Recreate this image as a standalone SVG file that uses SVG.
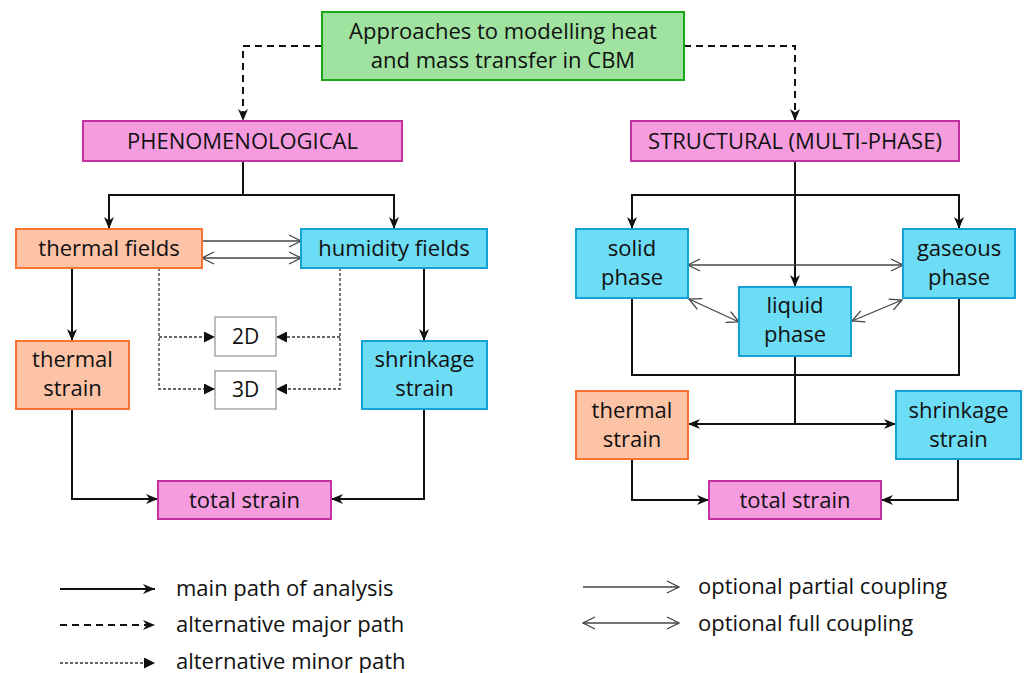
<svg xmlns="http://www.w3.org/2000/svg" width="1026" height="673" viewBox="0 0 1026 673">
<style>
text{font-family:"Open Sans","Liberation Sans",sans-serif;font-size:22px;fill:#111;text-anchor:middle}
.lg{text-anchor:start}
.green{fill:#a0e2a0;stroke:#1aa81a;stroke-width:2}
.pink{fill:#f59cdf;stroke:#c3309f;stroke-width:2}
.orange{fill:#fdc3a6;stroke:#fb7332;stroke-width:2}
.blue{fill:#6ddcf5;stroke:#15a0d6;stroke-width:2}
.white{fill:#fff;stroke:#a6a6a6;stroke-width:1.5}
.main{fill:none;stroke:#111;stroke-width:2;marker-end:url(#arr)}
.plain{fill:none;stroke:#111;stroke-width:2}
.dash{fill:none;stroke:#111;stroke-width:2;stroke-dasharray:7 5;marker-end:url(#arr)}
.dot{fill:none;stroke:#333;stroke-width:1.3;stroke-dasharray:3 2;marker-end:url(#tri)}
.part{fill:none;stroke:#444;stroke-width:1.3;marker-end:url(#open)}
.full{fill:none;stroke:#444;stroke-width:1.3;marker-end:url(#open);marker-start:url(#open)}
</style>
<defs>
<marker id="arr" markerUnits="userSpaceOnUse" viewBox="0 0 12 12" refX="12" refY="6" markerWidth="12" markerHeight="12" orient="auto">
<path d="M0,1 L12,6 L0,11 L3.5,6 z" fill="#111"/>
</marker>
<marker id="tri" markerUnits="userSpaceOnUse" viewBox="0 0 11 11" refX="11" refY="5.5" markerWidth="11" markerHeight="11" orient="auto">
<path d="M0,0 L11,5.5 L0,11 z" fill="#111"/>
</marker>
<marker id="open" markerUnits="userSpaceOnUse" viewBox="0 0 14 14" refX="13" refY="7" markerWidth="14" markerHeight="14" orient="auto-start-reverse">
<path d="M1,1 L13,7 L1,13" fill="none" stroke="#444" stroke-width="1.3"/>
</marker>
</defs>

<g id="connectors">
<path class="dash" d="M322,46 H243 V121"/>
<path class="dash" d="M684,46 H795 V121"/>
<path class="main" d="M243,161 V195 H109 V229"/>
<path class="main" d="M243,195 H394 V229"/>
<path class="part" d="M202,241 H301"/>
<path class="full" d="M202,258 H301"/>
<path class="main" d="M72,268 V341"/>
<path class="main" d="M424,268 V341"/>
<path class="dot" d="M159,268 V389 H215"/>
<path class="dot" d="M159,337 H215"/>
<path class="dot" d="M340,268 V389 H276"/>
<path class="dot" d="M340,337 H276"/>
<path class="main" d="M72,409 V499 H158"/>
<path class="main" d="M424,409 V499 H331"/>

<path class="main" d="M795,161 V287"/>
<path class="main" d="M795,195 H632 V229"/>
<path class="main" d="M795,195 H959 V229"/>
<path class="full" d="M688,265 H903"/>
<path class="full" d="M689,299 L739,322"/>
<path class="full" d="M902,300 L852,321"/>
<path class="plain" d="M632,298 V375 H959 V298"/>
<path class="plain" d="M795,356 V424"/>
<path class="main" d="M795,424 H688"/>
<path class="main" d="M795,424 H896"/>
<path class="main" d="M632,459 V500 H709"/>
<path class="main" d="M958,459 V500 H881"/>
</g>

<g id="n-top"><rect class="green" x="322" y="12" width="362" height="68"/><text x="503" y="39">Approaches to modelling heat</text><text x="503" y="68">and mass transfer in CBM</text></g>
<g id="n-phen"><rect class="pink" x="83" y="121" width="319" height="40"/><text x="242.5" y="149">PHENOMENOLOGICAL</text></g>
<g id="n-struct"><rect class="pink" x="631" y="121" width="328" height="40"/><text x="795" y="149">STRUCTURAL (MULTI-PHASE)</text></g>
<g id="n-thermal-fields"><rect class="orange" x="16" y="229" width="186" height="39"/><text x="109" y="256">thermal fields</text></g>
<g id="n-humidity-fields"><rect class="blue" x="301" y="229" width="186" height="39"/><text x="394" y="256">humidity fields</text></g>
<g id="n-thermal-strain-l"><rect class="orange" x="16" y="341" width="113" height="68"/><text x="72.5" y="367">thermal</text><text x="72.5" y="396">strain</text></g>
<g id="n-shrinkage-strain-l"><rect class="blue" x="362" y="341" width="125" height="68"/><text x="424.5" y="367">shrinkage</text><text x="424.5" y="396">strain</text></g>
<g id="n-2d"><rect class="white" x="215" y="317" width="61" height="39"/><text x="245.5" y="344" style="font-size:21px">2D</text></g>
<g id="n-3d"><rect class="white" x="215" y="371" width="61" height="38"/><text x="245.5" y="397" style="font-size:21px">3D</text></g>
<g id="n-total-l"><rect class="pink" x="158" y="481" width="173" height="38"/><text x="244.5" y="507.5">total strain</text></g>

<g id="n-solid"><rect class="blue" x="576" y="229" width="112" height="69"/><text x="632" y="256">solid</text><text x="632" y="285">phase</text></g>
<g id="n-gaseous"><rect class="blue" x="903" y="229" width="112" height="69"/><text x="959" y="256">gaseous</text><text x="959" y="285">phase</text></g>
<g id="n-liquid"><rect class="blue" x="739" y="287" width="112" height="69"/><text x="795" y="313">liquid</text><text x="795" y="342">phase</text></g>
<g id="n-thermal-strain-r"><rect class="orange" x="576" y="391" width="112" height="68"/><text x="632" y="418">thermal</text><text x="632" y="447">strain</text></g>
<g id="n-shrinkage-strain-r"><rect class="blue" x="896" y="391" width="125" height="68"/><text x="958.5" y="418">shrinkage</text><text x="958.5" y="447">strain</text></g>
<g id="n-total-r"><rect class="pink" x="709" y="481" width="172" height="38"/><text x="795" y="507.5">total strain</text></g>

<g id="legend">
<path class="main" d="M60,589 H155"/>
<path class="dash" d="M60,625 H155"/>
<path class="dot" d="M60,663 H155"/>
<path class="part" d="M583,587 H679"/>
<path class="full" d="M583,623 H679"/>
<text class="lg" x="176" y="596">main path of analysis</text>
<text class="lg" x="176" y="632">alternative major path</text>
<text class="lg" x="176" y="669">alternative minor path</text>
<text class="lg" x="698" y="594">optional partial coupling</text>
<text class="lg" x="698" y="631">optional full coupling</text>
</g>
</svg>
